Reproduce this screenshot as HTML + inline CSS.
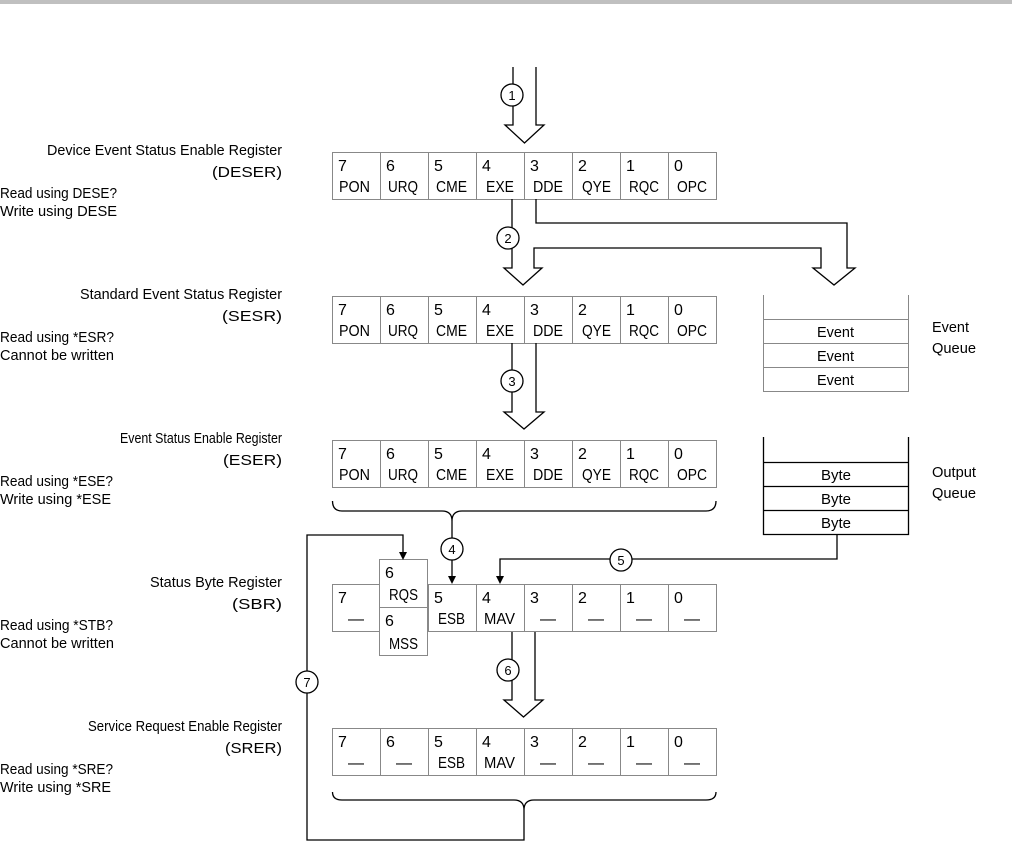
<!DOCTYPE html>
<html><head><meta charset="utf-8"><style>
html,body{margin:0;padding:0;background:#fff;}
svg{display:block;}
text{font-family:"Liberation Sans",Arial,sans-serif;fill:#000;}
</style></head><body>
<svg width="1012" height="848" viewBox="0 0 1012 848" xmlns="http://www.w3.org/2000/svg">
<rect x="0" y="0" width="1012" height="4" fill="#c0c0c0"/>

<!-- Left labels -->
<g font-size="15">
<text x="282" y="155" text-anchor="end" textLength="235" lengthAdjust="spacingAndGlyphs">Device Event Status Enable Register</text>
<text x="282" y="177" text-anchor="end" textLength="70" lengthAdjust="spacingAndGlyphs">(DESER)</text>
<text x="0" y="198" textLength="117" lengthAdjust="spacingAndGlyphs">Read using DESE?</text>
<text x="0" y="216" textLength="117" lengthAdjust="spacingAndGlyphs">Write using DESE</text>

<text x="282" y="299" text-anchor="end" textLength="202" lengthAdjust="spacingAndGlyphs">Standard Event Status Register</text>
<text x="282" y="321" text-anchor="end" textLength="60" lengthAdjust="spacingAndGlyphs">(SESR)</text>
<text x="0" y="342" textLength="114" lengthAdjust="spacingAndGlyphs">Read using *ESR?</text>
<text x="0" y="360" textLength="114" lengthAdjust="spacingAndGlyphs">Cannot be written</text>

<text x="282" y="443" text-anchor="end" textLength="162" lengthAdjust="spacingAndGlyphs">Event Status Enable Register</text>
<text x="282" y="465" text-anchor="end" textLength="59" lengthAdjust="spacingAndGlyphs">(ESER)</text>
<text x="0" y="486" textLength="113" lengthAdjust="spacingAndGlyphs">Read using *ESE?</text>
<text x="0" y="504" textLength="111" lengthAdjust="spacingAndGlyphs">Write using *ESE</text>

<text x="282" y="587" text-anchor="end" textLength="132" lengthAdjust="spacingAndGlyphs">Status Byte Register</text>
<text x="282" y="609" text-anchor="end" textLength="50" lengthAdjust="spacingAndGlyphs">(SBR)</text>
<text x="0" y="630" textLength="113" lengthAdjust="spacingAndGlyphs">Read using *STB?</text>
<text x="0" y="648" textLength="114" lengthAdjust="spacingAndGlyphs">Cannot be written</text>

<text x="282" y="731" text-anchor="end" textLength="194" lengthAdjust="spacingAndGlyphs">Service Request Enable Register</text>
<text x="282" y="753" text-anchor="end" textLength="57" lengthAdjust="spacingAndGlyphs">(SRER)</text>
<text x="0" y="774" textLength="113" lengthAdjust="spacingAndGlyphs">Read using *SRE?</text>
<text x="0" y="792" textLength="111" lengthAdjust="spacingAndGlyphs">Write using *SRE</text>
</g>

<!-- Register rows -->
<g stroke="#888" stroke-width="1" fill="none">
<rect x="332.5" y="152.5" width="384" height="47"/>
<rect x="332.5" y="296.5" width="384" height="47"/>
<rect x="332.5" y="440.5" width="384" height="47"/>
<rect x="332.5" y="584.5" width="384" height="47"/>
<rect x="332.5" y="728.5" width="384" height="47"/>
<path d="M380.5 152v47M428.5 152v47M476.5 152v47M524.5 152v47M572.5 152v47M620.5 152v47M668.5 152v47"/>
<path d="M380.5 296v47M428.5 296v47M476.5 296v47M524.5 296v47M572.5 296v47M620.5 296v47M668.5 296v47"/>
<path d="M380.5 440v47M428.5 440v47M476.5 440v47M524.5 440v47M572.5 440v47M620.5 440v47M668.5 440v47"/>
<path d="M428.5 584v47M476.5 584v47M524.5 584v47M572.5 584v47M620.5 584v47M668.5 584v47"/>
<path d="M380.5 728v47M428.5 728v47M476.5 728v47M524.5 728v47M572.5 728v47M620.5 728v47M668.5 728v47"/>
<rect x="379.5" y="559.5" width="48" height="96" fill="#fff"/>
<path d="M379.5 607.5h48"/>
</g>

<defs>
<g id="row">
<text x="338" y="171">7</text><text x="386" y="171">6</text><text x="434" y="171">5</text><text x="482" y="171">4</text><text x="530" y="171">3</text><text x="578" y="171">2</text><text x="626" y="171">1</text><text x="674" y="171">0</text>
<text x="339" y="192" textLength="31" lengthAdjust="spacingAndGlyphs">PON</text>
<text x="388" y="192" textLength="30" lengthAdjust="spacingAndGlyphs">URQ</text>
<text x="436" y="192" textLength="31" lengthAdjust="spacingAndGlyphs">CME</text>
<text x="486" y="192" textLength="28" lengthAdjust="spacingAndGlyphs">EXE</text>
<text x="533" y="192" textLength="30" lengthAdjust="spacingAndGlyphs">DDE</text>
<text x="582" y="192" textLength="29" lengthAdjust="spacingAndGlyphs">QYE</text>
<text x="629" y="192" textLength="30" lengthAdjust="spacingAndGlyphs">RQC</text>
<text x="677" y="192" textLength="30" lengthAdjust="spacingAndGlyphs">OPC</text>
</g>
</defs>

<g font-size="16">
<use href="#row"/>
<use href="#row" y="144"/>
<use href="#row" y="288"/>
<!-- SBR -->
<text x="338" y="603">7</text><text x="434" y="603">5</text><text x="482" y="603">4</text><text x="530" y="603">3</text><text x="578" y="603">2</text><text x="626" y="603">1</text><text x="674" y="603">0</text>
<text x="385" y="578">6</text><text x="385" y="626">6</text>
<text x="389" y="600" textLength="29" lengthAdjust="spacingAndGlyphs">RQS</text>
<text x="389" y="649" textLength="29" lengthAdjust="spacingAndGlyphs">MSS</text>
<text x="438" y="624" textLength="27" lengthAdjust="spacingAndGlyphs">ESB</text>
<text x="484" y="624" textLength="31" lengthAdjust="spacingAndGlyphs">MAV</text>
<g text-anchor="middle">
<text x="356" y="624">—</text><text x="548" y="624">—</text><text x="596" y="624">—</text><text x="644" y="624">—</text><text x="692" y="624">—</text>
</g>
<!-- SRER -->
<text x="338" y="747">7</text><text x="386" y="747">6</text><text x="434" y="747">5</text><text x="482" y="747">4</text><text x="530" y="747">3</text><text x="578" y="747">2</text><text x="626" y="747">1</text><text x="674" y="747">0</text>
<text x="438" y="768" textLength="27" lengthAdjust="spacingAndGlyphs">ESB</text>
<text x="484" y="768" textLength="31" lengthAdjust="spacingAndGlyphs">MAV</text>
<g text-anchor="middle">
<text x="356" y="768">—</text><text x="404" y="768">—</text><text x="548" y="768">—</text><text x="596" y="768">—</text><text x="644" y="768">—</text><text x="692" y="768">—</text>
</g>
</g>

<!-- Queues -->
<g fill="none" stroke="#888" stroke-width="1">
<path d="M763.5 295v96.5h145V295M763.5 319.5h145M763.5 343.5h145M763.5 367.5h145"/>
</g>
<g fill="none" stroke="#000" stroke-width="1.3">
<path d="M763.5 437v97.5h145V437M763.5 462.5h145M763.5 486.5h145M763.5 510.5h145"/>
</g>
<g font-size="15">
<text x="817" y="337" textLength="37" lengthAdjust="spacingAndGlyphs">Event</text>
<text x="817" y="361" textLength="37" lengthAdjust="spacingAndGlyphs">Event</text>
<text x="817" y="385" textLength="37" lengthAdjust="spacingAndGlyphs">Event</text>
<text x="821" y="480" textLength="30" lengthAdjust="spacingAndGlyphs">Byte</text>
<text x="821" y="504" textLength="30" lengthAdjust="spacingAndGlyphs">Byte</text>
<text x="821" y="528" textLength="30" lengthAdjust="spacingAndGlyphs">Byte</text>
<text x="932" y="332" textLength="37" lengthAdjust="spacingAndGlyphs">Event</text>
<text x="932" y="353" textLength="44" lengthAdjust="spacingAndGlyphs">Queue</text>
<text x="932" y="477" textLength="44" lengthAdjust="spacingAndGlyphs">Output</text>
<text x="932" y="498" textLength="44" lengthAdjust="spacingAndGlyphs">Queue</text>
</g>

<!-- Connectors -->
<g fill="none" stroke="#000" stroke-width="1.3">
<path d="M513 67V125H505L524.5 143L544 125H536V67"/>
<path d="M512 199V268H504L523 285L542 268H534V248H821V268H813L834 285L855 268H847V223H536V199"/>
<path d="M512 343V412H504L524 429L544 412H536V343"/>
<path d="M332.5 501Q332.5 511 342 511H442Q452 511 452 521Q452 511 462 511H706Q716 511 716 501"/>
<path d="M452 521V577"/>
<path d="M837 534V559H500V577"/>
<path d="M524 810V840H307V535H403V553"/>
<path d="M332.5 792Q332.5 800 342 800H514Q524 800 524 810Q524 800 534 800H706Q716 800 716 792"/>
<path d="M512 632V700H504L523.5 717L543 700H535V632"/>
</g>
<g fill="#000">
<path d="M448 576L456 576L452 584Z"/>
<path d="M496 576L504 576L500 584Z"/>
<path d="M399 552L407 552L403 560Z"/>
</g>

<!-- circles -->
<g fill="#fff" stroke="#000" stroke-width="1.3">
<circle cx="512" cy="95" r="11"/>
<circle cx="508" cy="238" r="11"/>
<circle cx="512" cy="381" r="11"/>
<circle cx="452" cy="549" r="11"/>
<circle cx="621" cy="560" r="11"/>
<circle cx="508" cy="670" r="11"/>
<circle cx="307" cy="682" r="11"/>
</g>
<g font-size="13" text-anchor="middle">
<text x="512" y="100">1</text>
<text x="508" y="243">2</text>
<text x="512" y="386">3</text>
<text x="452" y="554">4</text>
<text x="621" y="565">5</text>
<text x="508" y="675">6</text>
<text x="307" y="687">7</text>
</g>
</svg>
</body></html>
